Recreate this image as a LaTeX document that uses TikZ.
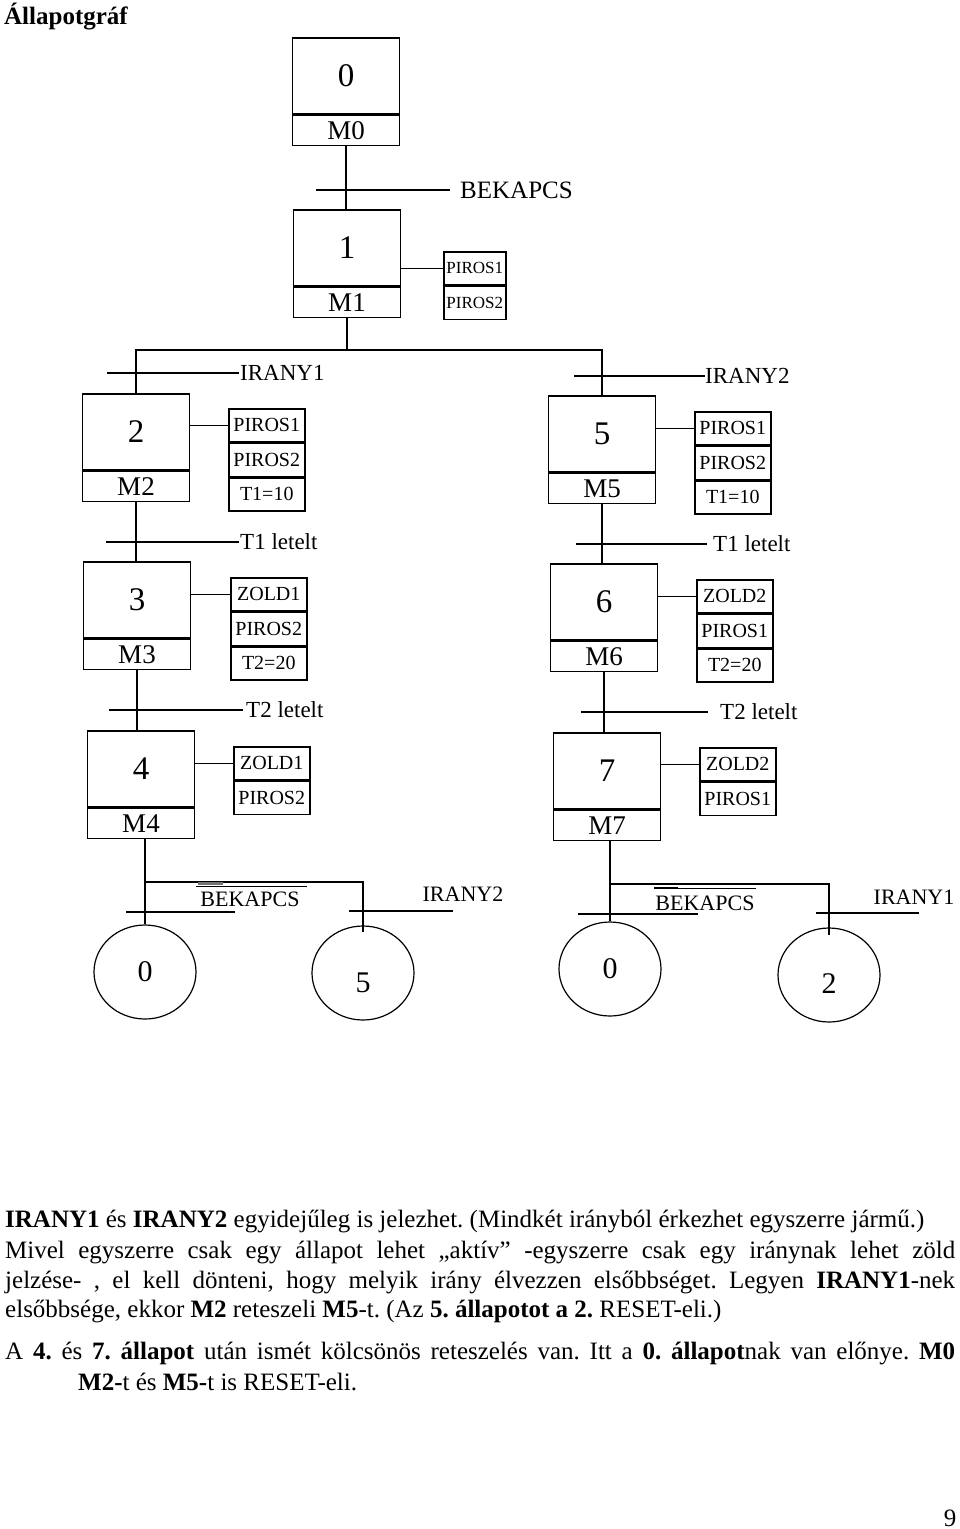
\documentclass[tikz,border=0pt]{standalone}
\usepackage{fontspec}
\setmainfont{Liberation Serif}
\usepackage{tikz}
\usetikzlibrary{calc}
\usetikzlibrary{shapes.geometric}
\frenchspacing

\begin{document}
\begin{tikzpicture}[x=1pt, y=-1pt,
    wire/.style={line width=1.4pt},
    num/.style={draw, line width=1.6pt, anchor=north, minimum width=107pt, minimum height=76pt, inner sep=0pt, font=\fontsize{33}{33}\selectfont},
    mbox/.style={draw, line width=1.6pt, anchor=north, minimum width=107pt, minimum height=30pt, inner sep=0pt, font=\fontsize{27}{27}\selectfont},
    act/.style={draw, line width=1.5pt, anchor=north west, minimum width=76pt, minimum height=33pt, inner sep=0pt, font=\fontsize{20}{20}\selectfont},
    actsmall/.style={act, minimum width=62pt, font=\fontsize{17}{17}\selectfont},
    trlabel/.style={anchor=west, inner sep=0pt, font=\fontsize{23}{23}\selectfont},
    botlabel/.style={inner sep=0pt, font=\fontsize{22}{22}\selectfont},
    ell/.style={draw, ellipse, line width=1.2pt, minimum width=102pt, minimum height=94pt, inner sep=0pt, font=\fontsize{30}{30}\selectfont},
    txt/.style={anchor=mid west, inner sep=0pt, font=\fontsize{25}{30}\selectfont}]

    \useasboundingbox (0,0) rectangle (960,1529);

    \node[anchor=base west, inner sep=0pt, font=\bfseries\fontsize{25}{25}\selectfont] (title) at (4,24) {Állapotgráf};

    \foreach \n/\x/\y in {0/346/37, 1/347/209, 2/136/393, 3/137/561, 4/141/730, 5/602/395, 6/604/563, 7/607/732}{
        \node[num] (s\n) at (\x,\y) {\n};
        \node[mbox] (m\n) at (s\n.south) {M\n};
    }

    \node[actsmall] (a11) at (443,251) {PIROS1};
    \node[actsmall] (a12) at (a11.south west) {PIROS2};
    \draw[wire] (a11.west -| s1.east) -- (a11.west);

    \foreach \n/\x/\y/\ra/\rb/\rc in {2/228/408/PIROS1/PIROS2/T1=10, 3/230/577/ZOLD1/PIROS2/T2=20, 5/694/411/PIROS1/PIROS2/T1=10, 6/696/579/ZOLD2/PIROS1/T2=20}{
        \node[act] (a\n1) at (\x,\y) {\ra};
        \node[act] (a\n2) at (a\n1.south west) {\rb};
        \node[act] (a\n3) at (a\n2.south west) {\rc};
        \draw[wire] (a\n1.west -| s\n.east) -- (a\n1.west);
    }

    \foreach \n/\x/\y/\ra/\rb in {4/233/746/ZOLD1/PIROS2, 7/699/747/ZOLD2/PIROS1}{
        \node[act] (a\n1) at (\x,\y) {\ra};
        \node[act] (a\n2) at (a\n1.south west) {\rb};
        \draw[wire] (a\n1.west -| s\n.east) -- (a\n1.west);
    }

    \draw[wire] (m0.south) -- (m0.south |- s1.north);
    \coordinate (br) at (346,350);
    \draw[wire] (m1.south) -- (m1.south |- br);
    \draw[wire] (s2.north) |- (br) -| (s5.north);
    \foreach \a/\b in {2/3, 3/4, 5/6, 6/7}{
        \draw[wire] (m\a.south) -- (m\a.south |- s\b.north);
    }

    \draw[wire] (316,190) -- (450,190);
    \node[trlabel, font=\fontsize{25}{25}\selectfont] (tr0) at (460,190) {BEKAPCS};
    \foreach \a/\b/\y/\l/\t [count=\i] in {107/239/373/240/IRANY1, 106/239/542/240/T1 letelt, 109/243/710/246/T2 letelt, 574/705/376/705/IRANY2, 576/707/544/713/T1 letelt, 581/708/712/720/T2 letelt}{
        \draw[wire] (\a,\y) -- (\b,\y);
        \node[trlabel] (tr\i) at (\l,\y) {\t};
    }

    \node[ell] (c0a) at (145,972) {0};
    \node[ell, text height=38pt, text depth=0pt] (c5) at (363,973) {5};
    \node[ell] (c0b) at (610,969) {0};
    \node[ell, text height=36pt, text depth=0pt] (c2) at (829,975) {2};

    \coordinate (jl) at (0,882);
    \coordinate (jr) at (0,884);
    \draw[wire] (m4.south -| c0a.north) -- (c0a.north);
    \draw[wire] (c0a.north |- jl) -| ([yshift=-7pt]c5.north);
    \draw[wire] (m7.south -| c0b.north) -- (c0b.north);
    \draw[wire] (c0b.north |- jr) -| ([yshift=-8pt]c2.north);

    \draw[wire] (126,912) -- (235,912);
    \draw[wire] (349,911) -- (453,911);
    \draw[wire] (578,914) -- (698,914);
    \draw[wire] (816,913) -- (919,913);

    \node[botlabel] (nb1) at (250,899) {BEKAPCS};
    \node[botlabel] (ni2) at (463,894) {IRANY2};
    \node[botlabel] (nb2) at (705,903) {BEKAPCS};
    \node[botlabel] (ni1) at (914,897) {IRANY1};
    \draw[line width=1pt] ([shift={(-4pt,5pt)}]nb1.north west) -- ([shift={(7pt,5pt)}]nb1.north east);
    \draw[line width=2.2pt, black!55] ([shift={(-2pt,8pt)}]nb1.north west) -- ++(25,0);
    \draw[line width=1pt] ([shift={(-1pt,7pt)}]nb2.north west) -- ([shift={(1pt,7pt)}]nb2.north east);
    \draw[line width=2pt] ([shift={(-1pt,7pt)}]nb2.north west) -- ++(24,0);

    \node[txt] (p1) at (5,1225) {\textbf{IRANY1} és \textbf{IRANY2} egyidejűleg is jelezhet. (Mindkét irányból érkezhet egyszerre jármű.)};
    \node[txt] (p2) at (5,1256) {\makebox[950pt][s]{Mivel egyszerre csak egy állapot lehet „aktív” -egyszerre csak egy iránynak lehet zöld}};
    \node[txt] (p3) at (5,1286) {\makebox[950pt][s]{jelzése- , el kell dönteni, hogy melyik irány élvezzen elsőbbséget. Legyen \textbf{IRANY1}-nek}};
    \node[txt] (p4) at (5,1315) {elsőbbsége, ekkor \textbf{M2} reteszeli \textbf{M5}-t. (Az \textbf{5. állapotot a 2.} RESET-eli.)};
    \node[txt] (p5) at (5,1357) {\makebox[950pt][s]{A \textbf{4.} és \textbf{7. állapot} után ismét kölcsönös reteszelés van. Itt a \textbf{0. állapot}nak van előnye. \textbf{M0}}};
    \node[txt] (p6) at (78,1388) {\textbf{M2-}t és \textbf{M5-}t is RESET-eli.};

    \node[inner sep=0pt, font=\fontsize{25}{25}\selectfont] (pg) at (950,1518) {9};

\end{tikzpicture}
\end{document}
